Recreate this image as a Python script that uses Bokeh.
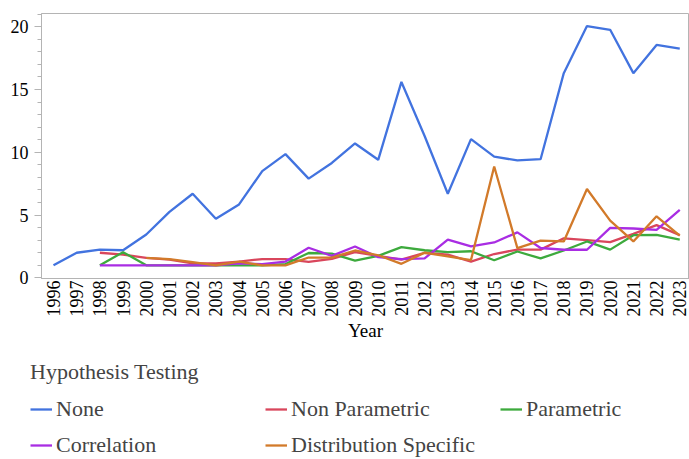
import math
from bokeh.plotting import figure
from bokeh.layouts import column
from bokeh.models import Legend, LegendItem, FixedTicker, Range1d
from bokeh.embed import file_html
from bokeh.resources import INLINE

years_none = list(range(1996, 2024))
none_vals = [1, 2, 2.25, 2.2, 3.45, 5.25, 6.7, 4.7, 5.85, 8.5, 9.85, 7.9, 9.15, 10.7, 9.4,
             15.6, 11.3, 6.7, 11.05, 9.65, 9.35, 9.45, 16.3, 20.05, 19.75, 16.3, 18.55, 18.25]

years_np = list(range(1998, 2024))
nonparam_vals = [2.0, 1.85, 1.6, 1.45, 1.15, 1.15, 1.3, 1.5, 1.5, 1.27, 1.52, 2.05, 1.75,
                 1.45, 2.0, 1.85, 1.3, 1.9, 2.25, 2.25, 3.15, 3.0, 2.85, 3.5, 4.2, 3.4]

years_p = list(range(1998, 2024))
param_vals = [1.0, 2.05, 1.0, 1.0, 1.0, 1.0, 1.0, 1.0, 1.1, 1.98, 1.93, 1.37, 1.75, 2.45,
              2.2, 2.05, 2.12, 1.4, 2.1, 1.55, 2.18, 2.9, 2.25, 3.4, 3.43, 3.05]

years_c = list(range(1998, 2024))
corr_vals = [1, 1, 1, 1, 1, 1, 1.15, 1.1, 1.3, 2.4, 1.75, 2.5, 1.65, 1.5, 1.55, 3.05,
             2.5, 2.82, 3.62, 2.38, 2.24, 2.24, 3.98, 3.93, 3.82, 5.42]

years_d = list(range(2000, 2024))
dist_vals = [1.6, 1.5, 1.25, 1.0, 1.3, 1.0, 1.0, 1.62, 1.62, 2.18, 1.8, 1.12, 2.0, 1.72,
             1.42, 8.87, 2.37, 2.97, 2.9, 7.08, 4.56, 2.9, 4.9, 3.37]

series_names = ["None", "Non Parametric", "Parametric", "Correlation", "Distribution Specific"]
colors = ["#4273DF", "#D9465C", "#3DAA3D", "#A92DE3", "#D27A2A"]
y_ticks = [0, 5, 10, 15, 20]
x_ticks = list(range(1996, 2024))

FONT = "Liberation Serif"
GRAY = "#b4b4b4"

p = figure(width=689, height=350, output_backend="svg", toolbar_location=None,
           x_range=Range1d(1995.483, 2023.42), y_range=Range1d(-0.05, 21.05),
           min_border_left=41, min_border_right=0, min_border_top=13, min_border_bottom=72)
p.frame_align = False

p.xgrid.visible = False
p.ygrid.visible = False
p.outline_line_color = GRAY
p.background_fill_color = "white"
p.border_fill_color = "white"

data = [(years_none, none_vals), (years_np, nonparam_vals), (years_p, param_vals),
        (years_c, corr_vals), (years_d, dist_vals)]
for (xs, ys), c in zip(data, colors):
    p.line(xs, ys, line_color=c, line_width=2.3)

# axes
p.xaxis.ticker = FixedTicker(ticks=x_ticks)
p.xaxis.major_label_orientation = math.pi / 2
p.xaxis.major_tick_out = 0
p.xaxis.major_tick_in = 0
p.xaxis.minor_tick_out = 0
p.xaxis.minor_tick_in = 0
p.xaxis.axis_line_color = GRAY
p.xaxis.major_label_text_font = FONT
p.xaxis.major_label_text_font_size = "18px"
p.xaxis.major_label_text_color = "black"
p.xaxis.major_label_standoff = 2
p.xaxis.axis_label = "Year"
p.xaxis.axis_label_text_font = FONT
p.xaxis.axis_label_text_font_size = "19px"
p.xaxis.axis_label_text_font_style = "normal"
p.xaxis.axis_label_text_color = "black"
p.xaxis.axis_label_standoff = 0

minor = [v for v in range(0, 22) if v % 5 != 0]
p.yaxis.ticker = FixedTicker(ticks=y_ticks, minor_ticks=minor)
p.yaxis.axis_line_color = GRAY
p.yaxis.major_tick_line_color = GRAY
p.yaxis.minor_tick_line_color = GRAY
p.yaxis.major_tick_out = 7
p.yaxis.major_tick_in = 0
p.yaxis.minor_tick_out = 4
p.yaxis.minor_tick_in = 0
p.yaxis.major_label_text_font = FONT
p.yaxis.major_label_text_font_size = "18px"
p.yaxis.major_label_text_color = "black"
p.yaxis.major_label_standoff = 6

# legend figure
q = figure(width=689, height=109, output_backend="svg", toolbar_location=None,
           x_range=Range1d(0, 1), y_range=Range1d(0, 1),
           x_axis_location=None, y_axis_location=None,
           min_border_left=0, min_border_right=0, min_border_top=0, min_border_bottom=0)
q.frame_align = False
q.xgrid.visible = False
q.ygrid.visible = False
q.outline_line_color = None
lr = [q.line([-10, -9], [-10, -9], line_color=c, line_width=2.3) for c in colors]
items = [LegendItem(label=n, renderers=[r]) for n, r in zip(series_names, lr)]
legend = Legend(items=items, location=(30, 0), ncols=3, orientation="horizontal",
                title="Hypothesis Testing", title_text_font=FONT,
                title_text_font_size="22px", title_text_font_style="normal",
                title_standoff=10,
                label_text_font=FONT, label_text_font_size="22px",
                glyph_width=22, glyph_height=28, label_height=28, label_width=201,
                label_standoff=4, spacing=8, padding=0, margin=0,
                border_line_color=None, background_fill_alpha=0)
q.add_layout(legend, "center")

layout = column(p, q, spacing=0)
open("out.html", "w").write(file_html(layout, INLINE))
